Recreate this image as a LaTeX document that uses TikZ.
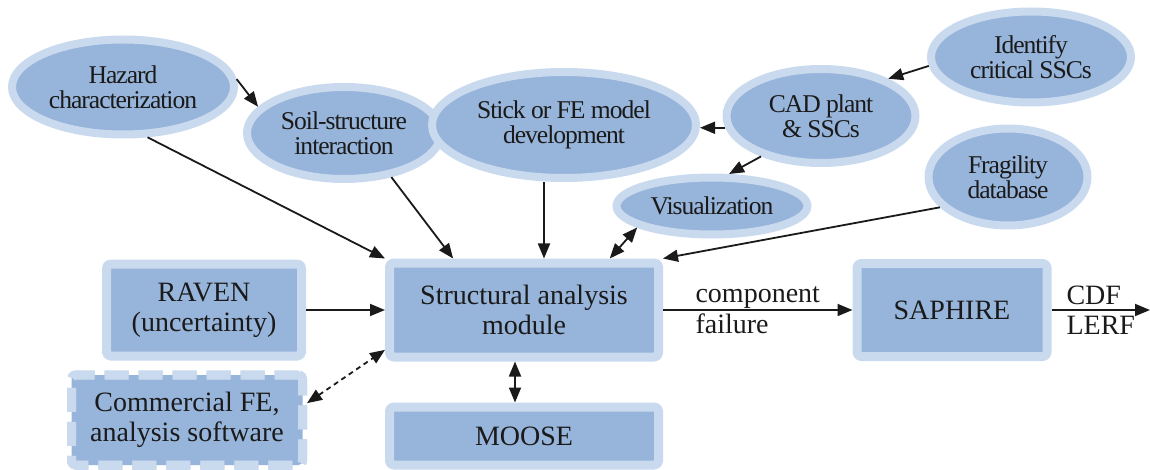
\documentclass[tikz,border=0pt]{standalone}
\usepackage{fontspec}
\setmainfont{Liberation Serif}
\newfontfamily\boxfont{Liberation Serif}
\newfontfamily\ovalfont[LetterSpace=-4]{Liberation Serif}
\usetikzlibrary{shapes.geometric,arrows.meta}
\definecolor{ringblue}{HTML}{C9DAEF}
\definecolor{coreblue}{HTML}{97B4DA}
\definecolor{dashblue}{HTML}{AFC6E4}
\definecolor{inkgray}{HTML}{1A1A1A}
\begin{document}
\begin{tikzpicture}[x=0.5pt,y=-0.5pt,>={Triangle[length=7.5pt,width=6pt]},line join=round,
	oval/.style={ellipse,draw=ringblue,line width=4pt,fill=coreblue,inner sep=0pt,align=center,text=inkgray,font=\ovalfont\fontsize{12.8}{12.5}\selectfont},
	block/.style={rectangle,draw=ringblue,line width=4.5pt,fill=coreblue,rounded corners=2pt,inner sep=0pt,align=center,text=inkgray,font=\boxfont\fontsize{14}{15}\selectfont},
	dashblock/.style={block,fill=none,preaction={fill=coreblue,draw=dashblue,line width=4.5pt},dash pattern=on 12pt off 5pt},
	link/.style={->,line width=0.9pt,draw=inkgray},
	tag/.style={text=inkgray,align=left,font=\boxfont\fontsize{14}{15.5}\selectfont}]
		\useasboundingbox (0,0) rectangle (1150,470);
		% ellipses
		\node[oval,minimum width=111pt,minimum height=47.5pt] (haz) at (123,87) {Hazard\\characterization};
		\node[oval,minimum width=97pt,minimum height=46pt] (soil) at (344,133) {Soil-structure\\interaction};
		\node[oval,minimum width=132pt,minimum height=53pt] (stick) at (564,125) {Stick or FE model\\development};
		\node[oval,minimum width=94.5pt,minimum height=47pt] (cad) at (821,116) {CAD plant\\\& SSCs};
		\node[oval,minimum width=100pt,minimum height=45.5pt] (ident) at (1031,57) {Identify\\critical SSCs};
		\node[oval,minimum width=79.5pt,minimum height=48.5pt] (frag) at (1008,177) {Fragility\\database};
		\node[oval,minimum width=95.5pt,minimum height=28.5pt] (vis) at (712,206) {Visualization};
		% boxes
		\node[block,minimum width=97.5pt,minimum height=46pt] (raven) at (204,310) {RAVEN\\(uncertainty)};
		\node[block,minimum width=134.5pt,minimum height=47pt] (sam) at (524,310) {Structural analysis\\module};
		\node[block,minimum width=95pt,minimum height=46.5pt] (saph) at (952,310) {SAPHIRE};
		\node[dashblock,minimum width=115.5pt,minimum height=45pt] (comm) at (187,420) {Commercial FE,\\analysis software};
		\node[block,minimum width=134.5pt,minimum height=29pt] (moose) at (524,436) {MOOSE};
		\coordinate (out) at (1150,310);
		% connectors
		\draw[link] (haz.4) -- (soil.163);
		\draw[link] (haz.-64) -- (sam.north west);
		\draw[link] (soil.-43) -- (sam.144);
		\draw[link] ([xshift=-10pt]stick.south) -- ([xshift=-10pt]stick.south |- sam.north);
		\draw[link] (cad.187) -- (cad.187 -| stick.east);
		\draw[link] (ident.185) -- (cad.29);
		\draw[link] (cad.214) -- (vis.62);
		\draw[link,<->] (vis.196) -- (sam.31);
		\draw[link] (frag.204) -- (sam.north east);
		\draw[link] (raven) -- (sam);
		\draw[link,<->,dash pattern=on 2.5pt off 2pt] (comm.8) -- (sam.196);
		\draw[link,<->] ([xshift=-4.5pt]sam.south) -- ([xshift=-4.5pt]moose.north);
		\draw[link] (sam) -- node[tag]{component\\failure} (saph);
		\draw[link] (saph) -- node[tag,font=\boxfont\fontsize{14}{15}\selectfont]{CDF\\LERF} (out);
\end{tikzpicture}
\end{document}
